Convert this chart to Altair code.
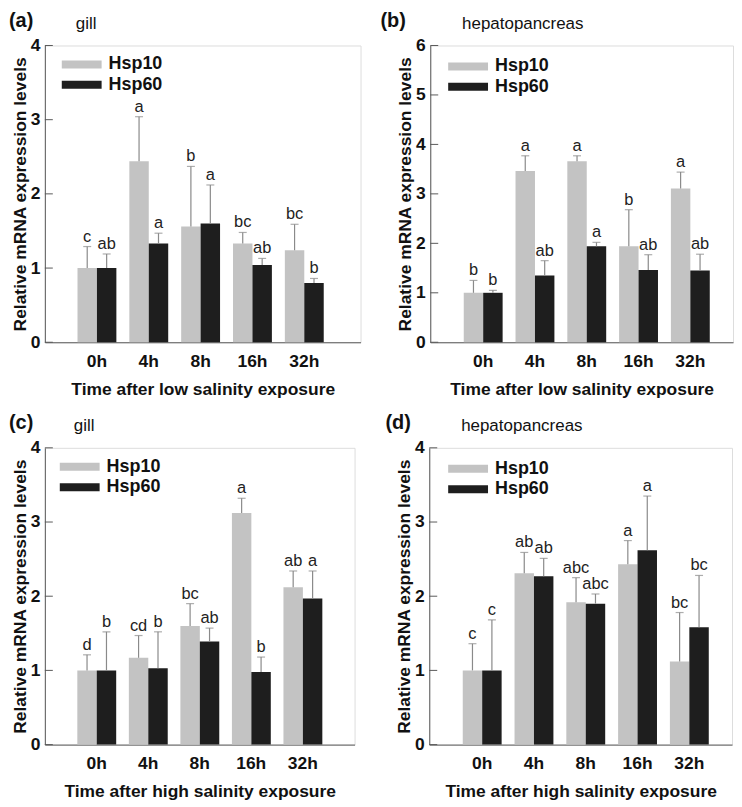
import altair as alt
import pandas as pd

times = ["0h", "4h", "8h", "16h", "32h"]
genes = ["Hsp10", "Hsp60"]

a_hsp10 = [1.00, 2.44, 1.56, 1.33, 1.24]
a_hsp10_sd = [0.29, 0.60, 0.81, 0.15, 0.35]
a_hsp60 = [1.00, 1.33, 1.60, 1.04, 0.80]
a_hsp60_sd = [0.19, 0.14, 0.52, 0.09, 0.06]
a_hsp10_lt = ["c", "a", "b", "bc", "bc"]
a_hsp60_lt = ["ab", "a", "a", "ab", "b"]

b_hsp10 = [1.00, 3.46, 3.66, 1.94, 3.11]
b_hsp10_sd = [0.25, 0.31, 0.11, 0.74, 0.33]
b_hsp60 = [1.00, 1.35, 1.94, 1.46, 1.45]
b_hsp60_sd = [0.05, 0.30, 0.08, 0.31, 0.33]
b_hsp10_lt = ["b", "a", "a", "b", "a"]
b_hsp60_lt = ["b", "ab", "a", "ab", "ab"]

c_hsp10 = [1.00, 1.17, 1.60, 3.12, 2.12]
c_hsp10_sd = [0.21, 0.30, 0.30, 0.20, 0.22]
c_hsp60 = [1.00, 1.03, 1.39, 0.98, 1.97]
c_hsp60_sd = [0.52, 0.49, 0.18, 0.20, 0.37]
c_hsp10_lt = ["d", "cd", "bc", "a", "ab"]
c_hsp60_lt = ["b", "b", "ab", "b", "a"]

d_hsp10 = [1.00, 2.31, 1.92, 2.43, 1.12]
d_hsp10_sd = [0.36, 0.28, 0.33, 0.32, 0.66]
d_hsp60 = [1.00, 2.27, 1.90, 2.62, 1.58]
d_hsp60_sd = [0.68, 0.24, 0.13, 0.73, 0.70]
d_hsp10_lt = ["c", "ab", "abc", "a", "bc"]
d_hsp60_lt = ["c", "ab", "abc", "a", "bc"]

FONT = "Liberation Sans"
GRAY = "#c3c3c3"
BLACK = "#1e1e1e"
ERR = "#8a8a8a"
AXIS = "#5a5a5a"
TS = 17.5
H = 298


def make_df(h10, s10, l10, h60, s60, l60):
    rows = []
    for i, t in enumerate(times):
        rows.append({"time": t, "gene": "Hsp10", "value": h10[i], "upper": h10[i] + s10[i], "letter": l10[i]})
        rows.append({"time": t, "gene": "Hsp60", "value": h60[i], "upper": h60[i] + s60[i], "letter": l60[i]})
    return pd.DataFrame(rows)


def panel(df, ymax, tag, tissue, xtitle, width, po, align, tag_x, tissue_x, leg_x, leg_y):
    base = alt.Chart(df)
    x = alt.X("time:N", sort=times,
              scale=alt.Scale(paddingInner=0.25, paddingOuter=po, align=align),
              axis=alt.Axis(title=xtitle, labelAngle=0, ticks=False, domainColor=AXIS,
                            labelFont=FONT, labelFontSize=TS, labelFontWeight="bold", labelColor="#111",
                            labelPadding=10, titleFont=FONT, titleFontSize=TS, titleFontWeight="bold",
                            titleColor="#111", titlePadding=11))
    xo = alt.XOffset("gene:N", sort=genes, scale=alt.Scale(paddingInner=0, paddingOuter=0))
    yscale = alt.Scale(domain=[0, ymax], nice=False)
    ticks_vals = list(range(0, ymax + 1))
    y = alt.Y("value:Q", scale=yscale,
              axis=alt.Axis(title="Relative mRNA expression levels", values=ticks_vals, format="d",
                            ticks=False, grid=False, domainColor=AXIS, labelFont=FONT, labelFontSize=TS,
                            labelFontWeight="bold", labelColor="#111", labelPadding=5,
                            titleFont=FONT, titleFontSize=TS, titleFontWeight="bold",
                            titleColor="#111", titlePadding=1))
    bars = base.mark_bar().encode(
        x=x, xOffset=xo, y=y,
        color=alt.Color("gene:N", sort=genes, scale=alt.Scale(domain=genes, range=[GRAY, BLACK]),
                        legend=alt.Legend(title=None, orient="none", legendX=leg_x, legendY=leg_y,
                                          symbolType="M-10,-2H10V2H-10Z", symbolSize=16,
                                          symbolStrokeWidth=0, symbolOpacity=1, labelFont=FONT,
                                          labelFontSize=18, labelFontWeight="bold", labelColor="#111",
                                          labelOffset=18, rowPadding=2.5, padding=0)),
    )
    err = base.mark_rule(color=ERR, strokeWidth=1.2).encode(
        x=x, xOffset=xo, y=alt.Y("value:Q", scale=yscale), y2="upper:Q")
    cap = base.mark_tick(color=ERR, size=8, thickness=1.2, orient="horizontal").encode(
        x=x, xOffset=xo, y=alt.Y("upper:Q", scale=yscale))
    letters = base.mark_text(font=FONT, fontSize=16.5, color="#222", baseline="alphabetic", dy=-5).encode(
        x=x, xOffset=xo, y=alt.Y("upper:Q", scale=yscale), text="letter:N")
    tickdf = pd.DataFrame({"v": ticks_vals})
    inticks = alt.Chart(tickdf).mark_rule(color=AXIS, strokeWidth=1).encode(
        y=alt.Y("v:Q", scale=yscale), x=alt.value(0), x2=alt.value(8))
    head = pd.DataFrame({"tag": [tag], "tissue": [tissue]})
    tagm = alt.Chart(head).mark_text(font=FONT, fontSize=20, fontWeight="bold", color="#111",
                                     align="left", baseline="top").encode(
        x=alt.value(tag_x), y=alt.value(-35), text="tag:N")
    tism = alt.Chart(head).mark_text(font=FONT, fontSize=17, color="#111",
                                     align="left", baseline="top").encode(
        x=alt.value(tissue_x), y=alt.value(-29.5), text="tissue:N")
    return alt.layer(bars, err, cap, letters, inticks, tagm, tism).properties(width=width, height=H)


pa = panel(make_df(a_hsp10, a_hsp10_sd, a_hsp10_lt, a_hsp60, a_hsp60_sd, a_hsp60_lt), 4, "(a)", "gill",
           "Time after low salinity exposure", 317, 0.67, 0.47, -36, 31, 28, 10)
pb = panel(make_df(b_hsp10, b_hsp10_sd, b_hsp10_lt, b_hsp60, b_hsp60_sd, b_hsp60_lt), 6, "(b)", "hepatopancreas",
           "Time after low salinity exposure", 304, 0.548, 0.59, -50, 32, 29, 12)
pc = panel(make_df(c_hsp10, c_hsp10_sd, c_hsp10_lt, c_hsp60, c_hsp60_sd, c_hsp60_lt), 4, "(c)", "gill",
           "Time after high salinity exposure", 311, 0.63, 0.5, -36, 29, 26, 10)
pd_ = panel(make_df(d_hsp10, d_hsp10_sd, d_hsp10_lt, d_hsp60, d_hsp60_sd, d_hsp60_lt), 4, "(d)", "hepatopancreas",
            "Time after high salinity exposure", 304, 0.548, 0.59, -44, 32, 30, 12)

chart = alt.vconcat(
    alt.hconcat(pa, pb, spacing=18).resolve_scale(color="independent"),
    alt.hconcat(pc, pd_, spacing=29).resolve_scale(color="independent"),
    spacing=13,
).resolve_scale(color="independent").properties(padding=0).configure_view(stroke=None).configure(
    background="white")

chart.save("out.html", embed_options={"renderer": "svg", "actions": False})
